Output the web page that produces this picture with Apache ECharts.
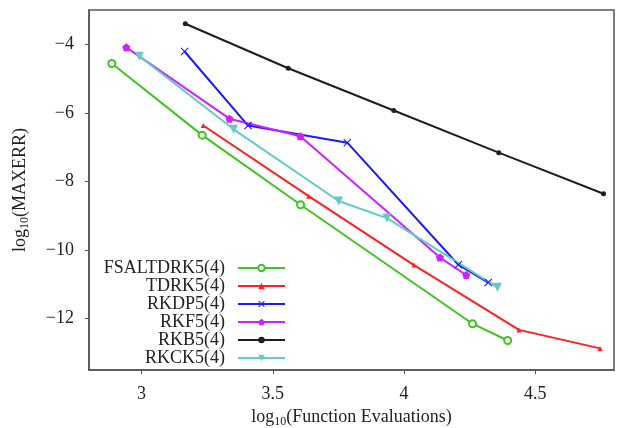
<!DOCTYPE html>
<html>
<head>
<meta charset="utf-8">
<script src="https://cdn.jsdelivr.net/npm/echarts@6/dist/echarts.min.js"></script>
<style>
  html, body { margin: 0; padding: 0; background: #fff; }
  #chart { width: 622px; height: 428px; }
</style>
</head>
<body>
<div id="chart"></div>
<script>
// log10(function evaluations) / log10(max error) pairs
var seriesNames = ['FSALTDRK5(4)', 'TDRK5(4)', 'RKDP5(4)', 'RKF5(4)', 'RKB5(4)', 'RKCK5(4)'];
var fsalX = [2.887, 3.231, 3.606, 4.261, 4.395];
var fsalY = [-4.56, -6.65, -8.68, -12.15, -12.64];
var tdrkX = [3.235, 3.637, 4.038, 4.438, 4.747];
var tdrkY = [-6.37, -8.43, -10.44, -12.33, -12.87];
var rkdpX = [3.164, 3.406, 3.784, 4.207, 4.321];
var rkdpY = [-4.21, -6.37, -6.87, -10.43, -10.95];
var rkfX = [2.942, 3.335, 3.605, 4.137, 4.237];
var rkfY = [-4.09, -6.17, -6.68, -10.22, -10.73];
var rkbX = [3.167, 3.559, 3.961, 4.361, 4.760];
var rkbY = [-3.40, -4.70, -5.93, -7.16, -8.36];
var rkckX = [2.992, 3.351, 3.751, 3.935, 4.356];
var rkckY = [-4.35, -6.48, -8.57, -9.07, -11.09];
var xTicks = [3, 3.5, 4, 4.5];
var yTicks = [-12, -10, -8, -6, -4];

var font = '"Liberation Serif", "DejaVu Serif", serif';

function pairs(xs, ys) {
    var out = [];
    for (var i = 0; i < xs.length; i++) {
        out.push([xs[i], ys[i]]);
    }
    return out;
}

function makeSeries(name, xs, ys, color, symbol, size, rotate) {
    return {
        name: name,
        type: 'line',
        data: pairs(xs, ys),
        symbol: symbol,
        symbolSize: size,
        symbolRotate: rotate || 0,
        showAllSymbol: true,
        lineStyle: { color: color, width: 2 },
        itemStyle: { color: color, borderWidth: 2 },
        emphasis: { disabled: true },
        animation: false
    };
}

var crossPath = 'path://M0,1L1,0L5,4L9,0L10,1L6,5L10,9L9,10L5,6L1,10L0,9L4,5Z';
var pentPath = 'path://M5,0L10,3.8L8.1,10L1.9,10L0,3.8Z';

var myChart = echarts.init(document.getElementById('chart'));
var option = {
    backgroundColor: '#fff',
    animation: false,
    grid: {
        left: 89, top: 10, right: 8, bottom: 58,
        outerBoundsMode: 'none',
        containLabel: false,
        show: true, borderColor: '#555', borderWidth: 1.5
    },
    legend: {
        orient: 'vertical',
        align: 'right',
        right: 336,
        top: 259,
        padding: 0,
        itemGap: 0,
        itemWidth: 47,
        itemHeight: 8,
        textStyle: { fontFamily: font, fontSize: 18, color: '#222', lineHeight: 17.7, padding: [0, 8, 0, 0] },
        data: seriesNames
    },
    xAxis: {
        type: 'value',
        min: 2.8,
        max: 4.8,
        name: 'log{sub|10}(Function Evaluations)',
        nameLocation: 'middle',
        nameGap: 35,
        nameTextStyle: {
            fontFamily: font, fontSize: 18, color: '#222',
            rich: { sub: { fontFamily: font, fontSize: 12, color: '#222', padding: [9, 0, 0, 0] } }
        },
        axisLine: { show: true, lineStyle: { color: '#555', width: 1.5 } },
        axisTick: { show: true, length: 4, customValues: xTicks, lineStyle: { color: '#555' } },
        axisLabel: {
            customValues: xTicks, fontFamily: font, fontSize: 18, color: '#222', margin: 15
        },
        splitLine: { show: false }
    },
    yAxis: {
        type: 'value',
        min: -13.5,
        max: -3,
        name: 'log{sub|10}(MAXERR)',
        nameLocation: 'middle',
        nameGap: 58,
        nameTextStyle: {
            fontFamily: font, fontSize: 18, color: '#222',
            rich: { sub: { fontFamily: font, fontSize: 12, color: '#222', padding: [9, 0, 0, 0] } }
        },
        axisLine: { show: true, lineStyle: { color: '#555', width: 1.5 } },
        axisTick: { show: true, length: 4, customValues: yTicks, lineStyle: { color: '#555' } },
        axisLabel: {
            customValues: yTicks, fontFamily: font, fontSize: 18, color: '#222', margin: 15,
            formatter: function (v) { return String(v).replace('-', '\u2212'); }
        },
        splitLine: { show: false }
    },
    series: [
        makeSeries(seriesNames[0], fsalX, fsalY, '#3fc51f', 'emptyCircle', 7),
        makeSeries(seriesNames[1], tdrkX, tdrkY, '#ff1f1f', 'triangle', 5),
        makeSeries(seriesNames[2], rkdpX, rkdpY, '#1a1aff', crossPath, 8),
        makeSeries(seriesNames[3], rkfX, rkfY, '#cc22ff', pentPath, 8),
        makeSeries(seriesNames[4], rkbX, rkbY, '#1e1e1e', 'circle', 5),
        makeSeries(seriesNames[5], rkckX, rkckY, '#62cbc4', 'triangle', 9, 180)
    ]
};
myChart.setOption(option, true);
window.addEventListener('resize', function () {
    myChart.resize();
});
</script>
</body>
</html>
